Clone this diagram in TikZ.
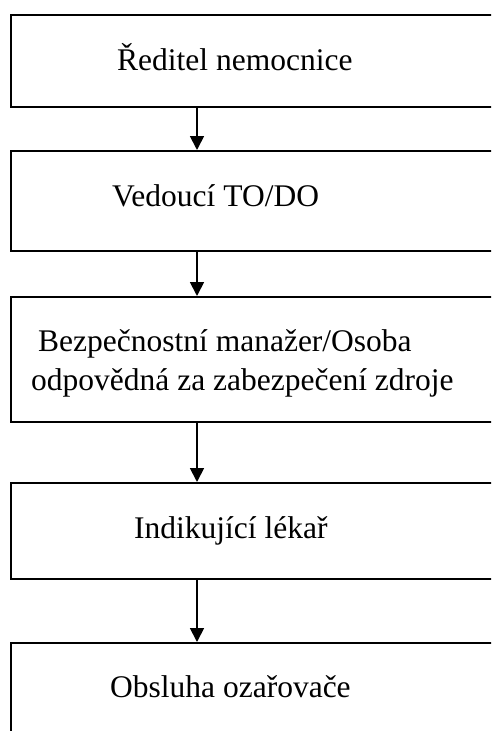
\documentclass[tikz,border=0pt]{standalone}
\usepackage{fontspec}
\setmainfont{Liberation Serif}
\usetikzlibrary{arrows.meta}
\begin{document}
\begin{tikzpicture}[x=1pt,y=1pt,
  box/.style={draw=black,line width=1.8pt,rectangle,minimum width=500pt,inner sep=0pt,anchor=north west},
  lbl/.style={anchor=base west,inner sep=0pt,font=\fontsize{31.5}{38.3}\selectfont,align=left},
  arr/.style={line width=1.8pt,-{Triangle[length=14pt,width=14pt]}}]
\useasboundingbox (0,0) rectangle (491,-731);
\clip (0,0) rectangle (491,-731);
\node[box,minimum height=92pt] (b1) at (10,-14) {};
\node[box,minimum height=100pt] (b2) at (10,-150) {};
\node[box,minimum height=125pt] (b3) at (10,-296) {};
\node[box,minimum height=96pt] (b4) at (10,-482) {};
\node[box,minimum height=120pt] (b5) at (10,-642) {};
\coordinate (ax) at (197,0);
\node[lbl] (t1) at (117,-70) {Ředitel nemocnice};
\node[lbl] (t2) at (112,-206.5) {Vedoucí TO/DO};
\node[lbl] (t3a) at (38,-351.5) {Bezpečnostní manažer/Osoba};
\node[lbl] (t3b) at (31,-390) {odpovědná za zabezpečení zdroje};
\node[lbl] (t4) at (134,-538) {Indikující lékař};
\node[lbl] (t5) at (110,-697) {Obsluha ozařovače};
\draw[arr] (b1.south -| ax) -- (b2.north -| ax);
\draw[arr] (b2.south -| ax) -- (b3.north -| ax);
\draw[arr] (b3.south -| ax) -- (b4.north -| ax);
\draw[arr] (b4.south -| ax) -- (b5.north -| ax);
\end{tikzpicture}
\end{document}
